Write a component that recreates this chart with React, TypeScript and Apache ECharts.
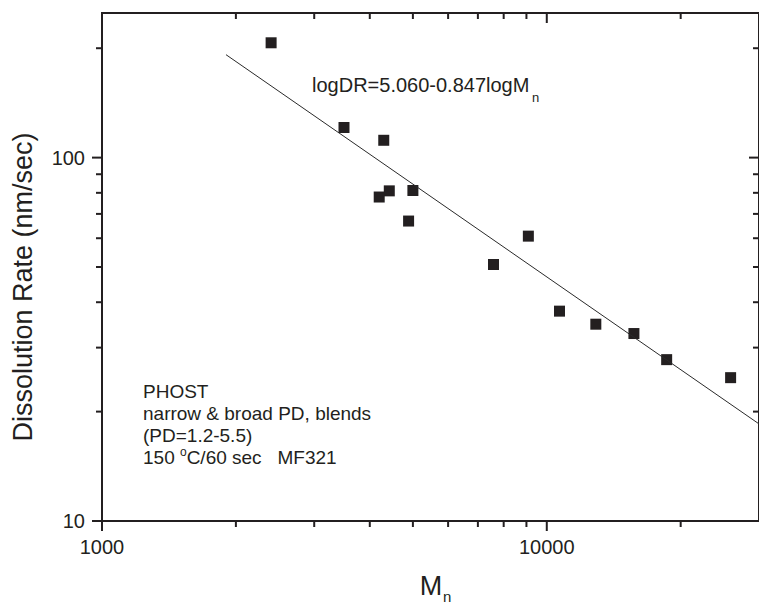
import React, { useEffect, useRef } from "react";
import * as echarts from "echarts";

// ---- data ----
const molecularWeights = [2400, 3500, 4300, 4425, 4200, 5000, 4890, 9090, 7590, 10680, 12890, 15700, 18600, 25900];
const dissolutionRates = [207, 121, 111.6, 81, 77.9, 81.2, 66.9, 60.8, 50.8, 37.8, 34.8, 32.8, 27.8, 24.8];
const fitLineM = [1900, 30000];
const fitLineDR = [192, 18.5];

const xMajorTicks = [1000, 10000];
const xMinorTicks = [2000, 3000, 4000, 5000, 6000, 7000, 8000, 9000, 20000];
const yMajorTicks = [10, 100];
const yMinorTicks = [20, 30, 40, 50, 60, 70, 80, 90, 200];

const X_MIN = 1000;
const X_MAX = 30000;
const Y_MIN = 10;
const Y_MAX = 250;

const INK = "#231f20";
const FONT = "'Liberation Sans', Arial, Helvetica, sans-serif";

function powerLabel(v: number): string {
  const e = Math.log10(v);
  return Math.abs(e - Math.round(e)) < 1e-6 ? String(Math.round(v)) : "";
}

export default function App() {
  const ref = useRef<HTMLDivElement>(null);

  useEffect(() => {
    document.body.style.margin = "0";
    if (!ref.current) return;
    const chart = echarts.init(ref.current, null, { renderer: "svg" });

    const MAJOR = 10;
    const MINOR = 6;
    const tickData: number[][] = [];
    xMajorTicks.forEach((v) => {
      tickData.push([v, Y_MIN, 0, MAJOR]);
      tickData.push([v, Y_MAX, 1, MAJOR]);
    });
    xMinorTicks.forEach((v) => {
      tickData.push([v, Y_MIN, 0, MINOR]);
      tickData.push([v, Y_MAX, 1, MINOR]);
    });
    yMajorTicks.forEach((v) => {
      tickData.push([X_MIN, v, 2, MAJOR]);
      tickData.push([X_MAX, v, 3, MAJOR]);
    });
    yMinorTicks.forEach((v) => {
      tickData.push([X_MIN, v, 2, MINOR]);
      tickData.push([X_MAX, v, 3, MINOR]);
    });

    const points = molecularWeights.map((m, i) => [m, dissolutionRates[i]]);
    const fit = fitLineM.map((m, i) => [m, fitLineDR[i]]);

    chart.setOption({
      animation: false,
      backgroundColor: "#ffffff",
      grid: {
        left: 102,
        top: 13,
        right: -6,
        bottom: 84,
        show: true,
        borderColor: INK,
        borderWidth: 2,
        backgroundColor: "transparent",
      },
      xAxis: {
        type: "log",
        logBase: 10,
        min: X_MIN,
        max: X_MAX,
        axisLine: { show: false },
        axisTick: { show: false },
        splitLine: { show: false },
        axisLabel: {
          show: true,
          margin: 16,
          color: INK,
          fontSize: 20,
          fontFamily: FONT,
          showMaxLabel: false,
          formatter: (v: number) => powerLabel(v),
        },
      },
      yAxis: {
        type: "log",
        logBase: 10,
        min: Y_MIN,
        max: Y_MAX,
        axisLine: { show: false },
        axisTick: { show: false },
        splitLine: { show: false },
        axisLabel: {
          show: true,
          margin: 17,
          color: INK,
          fontSize: 20,
          fontFamily: FONT,
          showMaxLabel: false,
          formatter: (v: number) => powerLabel(v),
        },
      },
      series: [
        {
          type: "line",
          data: fit,
          symbol: "none",
          lineStyle: { color: "#2a2a2a", width: 1 },
          silent: true,
        },
        {
          type: "scatter",
          data: points,
          symbol: "rect",
          symbolSize: 11,
          itemStyle: { color: INK, opacity: 1 },
        },
        {
          type: "custom",
          data: tickData,
          encode: { x: 0, y: 1 },
          silent: true,
          clip: false,
          renderItem: (params: any, api: any) => {
            const p = api.coord([api.value(0), api.value(1)]);
            const side = api.value(2);
            const len = api.value(3);
            let x2 = p[0];
            let y2 = p[1];
            if (side === 0) y2 = p[1] + len;
            else if (side === 1) y2 = p[1] + len;
            else if (side === 2) x2 = p[0] - len;
            else x2 = p[0] - len;
            return {
              type: "line",
              shape: { x1: p[0], y1: p[1], x2, y2 },
              style: { stroke: INK, lineWidth: 2 },
            };
          },
        },
      ],
      graphic: [
        {
          type: "text",
          x: 23,
          y: 287,
          rotation: Math.PI / 2,
          style: {
            text: "Dissolution Rate (nm/sec)",
            font: `27px ${FONT}`,
            fill: INK,
            textAlign: "center",
            textVerticalAlign: "middle",
          },
        },
        {
          type: "text",
          x: 431,
          y: 586,
          style: {
            text: "M",
            font: `27px ${FONT}`,
            fill: INK,
            textAlign: "center",
            textVerticalAlign: "middle",
          },
        },
        {
          type: "text",
          x: 443,
          y: 596,
          style: {
            text: "n",
            font: `15px ${FONT}`,
            fill: INK,
            textAlign: "left",
            textVerticalAlign: "middle",
          },
        },
        {
          type: "text",
          x: 312,
          y: 85,
          style: {
            text: "logDR=5.060-0.847logM",
            font: `20px ${FONT}`,
            fill: INK,
            textAlign: "left",
            textVerticalAlign: "middle",
          },
        },
        {
          type: "text",
          x: 532,
          y: 97,
          style: {
            text: "n",
            font: `13px ${FONT}`,
            fill: INK,
            textAlign: "left",
            textVerticalAlign: "middle",
          },
        },
        {
          type: "text",
          x: 143,
          y: 380,
          style: {
            text:
              "{m|PHOST}\n{m|narrow & broad PD, blends}\n{m|(PD=1.2-5.5)}\n{m|150 }{s|o}{m|C/60 sec   MF321}",
            textAlign: "left",
            textVerticalAlign: "top",
            fill: INK,
            rich: {
              m: { fontSize: 19, fontFamily: FONT, lineHeight: 22, fill: INK },
              s: { fontSize: 12, fontFamily: FONT, lineHeight: 12, verticalAlign: "top", fill: INK },
            },
          },
        },
      ],
    });

    return () => chart.dispose();
  }, []);

  return <div ref={ref} style={{ width: 759, height: 605 }} />;
}
